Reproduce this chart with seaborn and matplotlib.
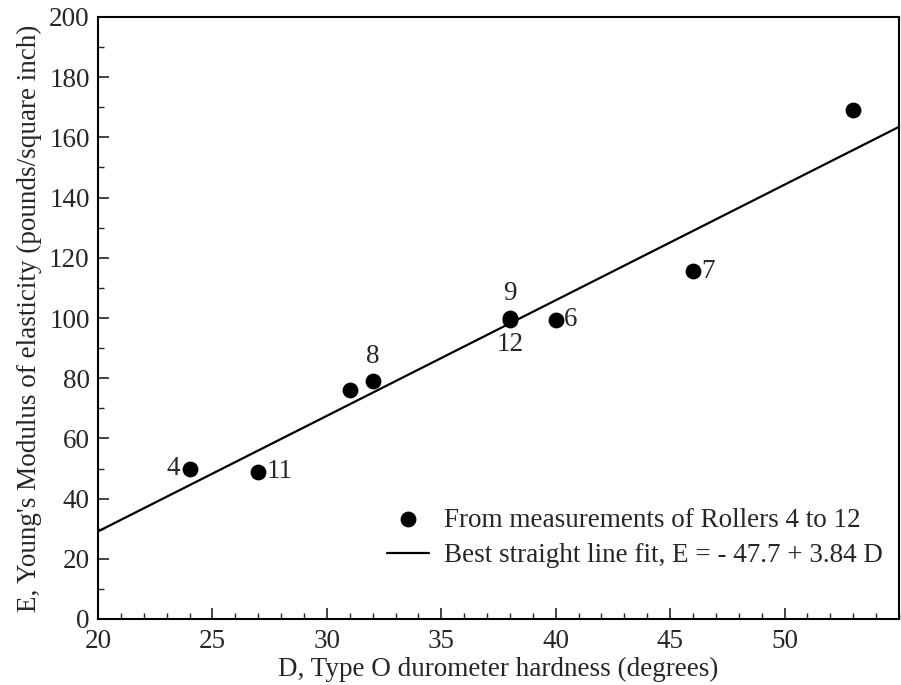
import matplotlib
matplotlib.use("Agg")
import matplotlib.pyplot as plt
from matplotlib.ticker import MultipleLocator
import seaborn as sns
import pandas as pd
import numpy as np

# Data
hardness = [24, 27, 31, 32, 38, 38, 40, 46, 53]
modulus = [50, 49, 76, 79, 100, 99.5, 99.5, 115.5, 169]
roller = ["4", "11", "", "8", "9", "12", "6", "7", ""]
label_pos = ["left", "right", "", "above", "above", "below", "right", "right", ""]

fit_intercept = -47.7
fit_slope = 3.84
fit_x = [20, 55]

x_ticks = [20, 25, 30, 35, 40, 45, 50]
y_ticks = [0, 20, 40, 60, 80, 100, 120, 140, 160, 180, 200]

sns.set_theme(style="ticks")
plt.rcParams["font.family"] = ["Liberation Serif", "DejaVu Serif"]

FS = 19.5

fig = plt.figure(figsize=(9.01, 6.85), dpi=100)
ax = fig.add_axes([98 / 901, 1 - 619 / 685, (899 - 98) / 901, (619 - 17) / 685])

df = pd.DataFrame({"D": hardness, "E": modulus, "roller": roller})
fit_df = pd.DataFrame({"D": fit_x,
                       "E": [fit_intercept + fit_slope * d for d in fit_x]})

sns.lineplot(data=fit_df, x="D", y="E", ax=ax, color="black", linewidth=1.6,
             label="Best straight line fit, E = - 47.7 + 3.84 D", zorder=2)
sns.scatterplot(data=df, x="D", y="E", ax=ax, color="black", s=130,
                edgecolor="black", linewidth=0, zorder=3,
                label="From measurements of Rollers 4 to 12")

offsets = {"left": (-7, 0, "right", "center"),
           "right": (6, 0, "left", "center"),
           "above": (0, 9, "center", "bottom"),
           "below": (0, -9, "center", "top")}
for d, e, r, p in zip(hardness, modulus, roller, label_pos):
    if not r:
        continue
    dx, dy, ha, va = offsets[p]
    ax.annotate(r, (d, e), xytext=(dx, dy), textcoords="offset points",
                ha=ha, va=va, fontsize=FS)

ax.set_xlim(20, 55)
ax.set_ylim(0, 200)
ax.set_xticks(x_ticks)
ax.set_yticks(y_ticks)
ax.xaxis.set_minor_locator(MultipleLocator(1))
ax.yaxis.set_minor_locator(MultipleLocator(10))
ax.tick_params(axis="both", which="major", direction="in", length=8, width=1.2,
               labelsize=FS, top=False, right=False)
ax.tick_params(axis="x", which="major", pad=7)
ax.tick_params(axis="y", which="major", pad=6)
ax.tick_params(axis="both", which="minor", direction="in", length=4, width=1.0,
               top=False, right=False)
for s in ax.spines.values():
    s.set_visible(True)
    s.set_linewidth(1.5)
    s.set_color("black")

ax.set_xlabel("D, Type O durometer hardness (degrees)", fontsize=FS, labelpad=2)
ax.set_ylabel("E, Young's Modulus of elasticity (pounds/square inch)", fontsize=FS,
              labelpad=5)

handles, labels = ax.get_legend_handles_labels()
order = [labels.index("From measurements of Rollers 4 to 12"),
         labels.index("Best straight line fit, E = - 47.7 + 3.84 D")]
ax.legend([handles[i] for i in order], [labels[i] for i in order],
          loc="lower right", bbox_to_anchor=(1.0, 0.057), frameon=False,
          fontsize=FS, handlelength=1.55, handletextpad=0.55, labelspacing=0.4,
          borderaxespad=0.2)

fig.savefig("out.png", dpi=100)
